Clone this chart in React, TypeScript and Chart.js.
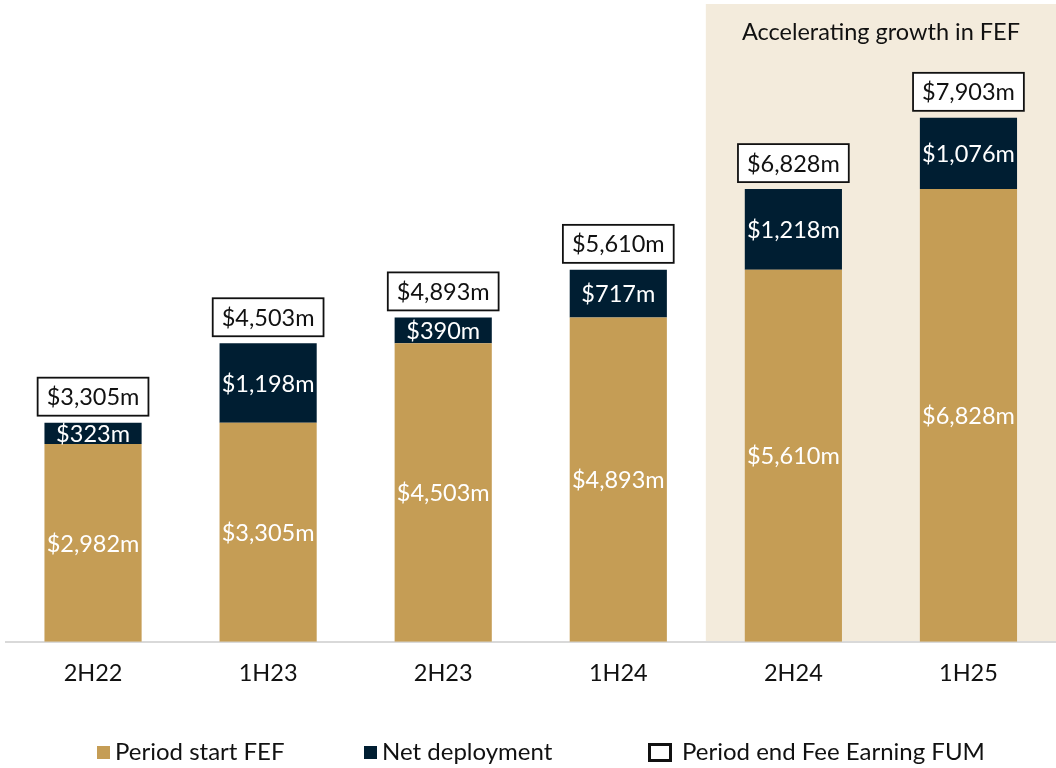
import React, { useEffect, useRef } from "react";
import { Chart, registerables } from "chart.js";

Chart.register(...registerables);

const categories = ["2H22", "1H23", "2H23", "1H24", "2H24", "1H25"];
const periodStart = [2982, 3305, 4503, 4893, 5610, 6828];
const netDeployment = [323, 1198, 390, 717, 1218, 1076];
const periodEnd = [3305, 4503, 4893, 5610, 6828, 7903];
const highlightFrom = 4;
const highlightText = "Accelerating growth in FEF";
const legendLabels = ["Period start FEF", "Net deployment", "Period end Fee Earning FUM"];

const GOLD = "#C59D55";
const NAVY = "#001E32";
const SHADE = "#F3EBDC";
const FONT = "Lato, 'Noto Sans', sans-serif";

const fmt = (v: number) => "$" + v.toLocaleString("en-US") + "m";

const decorPlugin = {
  id: "decor",
  beforeDraw(chart: any) {
    const { ctx, chartArea, scales } = chart;
    const x = scales.x;
    const x0 = (x.getPixelForValue(highlightFrom - 1) + x.getPixelForValue(highlightFrom)) / 2;
    ctx.save();
    ctx.fillStyle = SHADE;
    ctx.fillRect(x0, chartArea.top, chartArea.right - x0, chartArea.bottom - chartArea.top);
    ctx.fillStyle = "#111";
    ctx.font = `23.5px ${FONT}`;
    ctx.textAlign = "center";
    ctx.textBaseline = "middle";
    ctx.fillText(highlightText, (x0 + chartArea.right) / 2, chartArea.top + 28);
    ctx.restore();
  },
  afterDatasetsDraw(chart: any) {
    const { ctx, scales } = chart;
    ctx.save();
    ctx.font = `23.5px ${FONT}`;
    ctx.textAlign = "center";
    ctx.textBaseline = "middle";
    chart.data.datasets.forEach((ds: any, di: number) => {
      const meta = chart.getDatasetMeta(di);
      meta.data.forEach((el: any, i: number) => {
        const v = ds.data[i];
        ctx.fillStyle = "#FFFFFF";
        ctx.fillText(fmt(v), el.x, (el.y + el.base) / 2 + 1);
      });
    });
    periodEnd.forEach((v, i) => {
      const cx = scales.x.getPixelForValue(i);
      const top = scales.y.getPixelForValue(v);
      const t = fmt(v);
      const w = ctx.measureText(t).width + 18;
      const h = 38;
      const bottom = top - 7;
      ctx.fillStyle = "#FFFFFF";
      ctx.fillRect(cx - w / 2, bottom - h, w, h);
      ctx.strokeStyle = "#111";
      ctx.lineWidth = 1.8;
      ctx.strokeRect(cx - w / 2, bottom - h, w, h);
      ctx.fillStyle = "#111";
      ctx.fillText(t, cx, bottom - h / 2 + 1);
    });
    ctx.restore();
  },
  afterDraw(chart: any) {
    const { ctx } = chart;
    const markerX = [97, 364, 648];
    const cy = 752;
    ctx.save();
    ctx.font = `24px ${FONT}`;
    ctx.textBaseline = "middle";
    ctx.textAlign = "left";
    legendLabels.forEach((lbl, i) => {
      const mx = markerX[i];
      if (i === 0 || i === 1) {
        ctx.fillStyle = i === 0 ? GOLD : NAVY;
        ctx.fillRect(mx, cy - 6, 13, 13);
        ctx.fillStyle = "#111";
        ctx.fillText(lbl, mx + 18, cy);
      } else {
        ctx.strokeStyle = "#111";
        ctx.lineWidth = 3;
        ctx.strokeRect(mx + 1.5, cy - 7.5, 21, 16);
        ctx.fillStyle = "#111";
        ctx.fillText(lbl, mx + 34, cy);
      }
    });
    ctx.restore();
  },
};

export default function App() {
  const ref = useRef<HTMLCanvasElement>(null);
  useEffect(() => {
    if (!ref.current) return;
    Chart.defaults.font.family = FONT;
    const chart = new Chart(ref.current, {
      type: "bar",
      data: {
        labels: categories,
        datasets: [
          {
            label: legendLabels[0],
            data: periodStart,
            backgroundColor: GOLD,
            barPercentage: 0.555,
            categoryPercentage: 1,
          },
          {
            label: legendLabels[1],
            data: netDeployment,
            backgroundColor: NAVY,
            barPercentage: 0.555,
            categoryPercentage: 1,
          },
        ],
      },
      options: {
        animation: false,
        responsive: true,
        maintainAspectRatio: false,
        layout: { padding: { top: 4, left: 5.5, right: 0, bottom: 62 } },
        plugins: {
          legend: { display: false },
          tooltip: { enabled: false },
        },
        scales: {
          x: {
            stacked: true,
            grid: { display: false, drawTicks: false },
            border: { display: true, color: "#D9D9D9", width: 2 },
            ticks: { color: "#111", font: { size: 23.5, family: FONT }, padding: 18 },
          },
          y: {
            stacked: true,
            display: false,
            min: 0,
            max: 9620,
          },
        },
      },
      plugins: [decorPlugin],
    });
    return () => chart.destroy();
  }, []);
  return (
    <div style={{ position: "fixed", left: 0, top: 0, width: 1056, height: 768, background: "#fff" }}>
      <canvas ref={ref} />
    </div>
  );
}
